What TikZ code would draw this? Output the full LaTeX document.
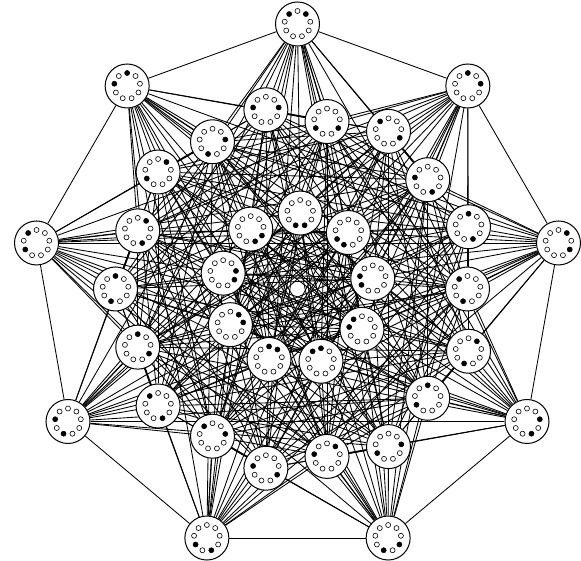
\documentclass[tikz,border=0pt]{standalone}
\usepackage{tikz}
\usetikzlibrary{backgrounds}

% a vertex: white disc with nine beads, beads #3 and #4 black
\newcommand{\necklace}[4]{%
  \node[setnode] (#1) at (#2) {};
  \foreach \k in {0,...,8}{%
    \pgfmathtruncatemacro\hit{(\k==#3)||(\k==#4)}%
    \ifnum\hit=1
      \filldraw[bead,fill=black] (#1) ++(10+40*\k:13) circle (2.5);
    \else
      \draw[bead,fill=white] (#1) ++(10+40*\k:13) circle (2.5);
    \fi}}

\begin{document}
\begin{tikzpicture}[x=1pt,y=1pt,
  setnode/.style={circle,draw,fill=white,line width=1pt,minimum size=44pt,inner sep=0pt},
  bead/.style={line width=0.6pt},
  link/.style={line width=0.85pt}]
\useasboundingbox (-297.5,-272) rectangle (283.5,289);
% outer ring
\necklace{n13}{90:265}{1}{3}
\necklace{n24}{130:265}{2}{4}
\necklace{n35}{170:265}{3}{5}
\necklace{n46}{210:265}{4}{6}
\necklace{n57}{250:265}{5}{7}
\necklace{n68}{290:265}{6}{8}
\necklace{n07}{330:265}{0}{7}
\necklace{n18}{10:265}{1}{8}
\necklace{n02}{50:265}{0}{2}
% middle ring
\necklace{n36}{0:170}{3}{6}
\necklace{n27}{20:182}{2}{7}
\necklace{n47}{40:170}{4}{7}
\necklace{n38}{60:182}{3}{8}
\necklace{n58}{80:170}{5}{8}
\necklace{n04}{100:182}{0}{4}
\necklace{n06}{120:170}{0}{6}
\necklace{n15}{140:182}{1}{5}
\necklace{n17}{160:170}{1}{7}
\necklace{n26}{180:182}{2}{6}
\necklace{n28}{200:170}{2}{8}
\necklace{n37}{220:182}{3}{7}
\necklace{n03}{240:170}{0}{3}
\necklace{n48}{260:182}{4}{8}
\necklace{n14}{280:170}{1}{4}
\necklace{n05}{300:182}{0}{5}
\necklace{n25}{320:170}{2}{5}
\necklace{n16}{340:182}{1}{6}
% inner ring
\necklace{n45}{8:76}{4}{5}
\necklace{n56}{48:76}{5}{6}
\necklace{n67}{88:76}{6}{7}
\necklace{n78}{128:76}{7}{8}
\necklace{n08}{168:76}{0}{8}
\necklace{n01}{208:76}{0}{1}
\necklace{n12}{248:76}{1}{2}
\necklace{n23}{288:76}{2}{3}
\necklace{n34}{328:76}{3}{4}
% disjoint pairs are joined
\begin{pgfonlayer}{background}
\foreach \a in {0,...,6}{
  \pgfmathtruncatemacro\aa{\a+1}
  \foreach \b in {\aa,...,8}{
    \foreach \c in {\aa,...,7}{
      \pgfmathtruncatemacro\cc{\c+1}
      \foreach \d in {\cc,...,8}{
        \ifnum\c=\b\relax\else\ifnum\d=\b\relax\else
          \draw[link] (n\a\b) -- (n\c\d);
        \fi\fi}}}}
\end{pgfonlayer}
\end{tikzpicture}
\end{document}
